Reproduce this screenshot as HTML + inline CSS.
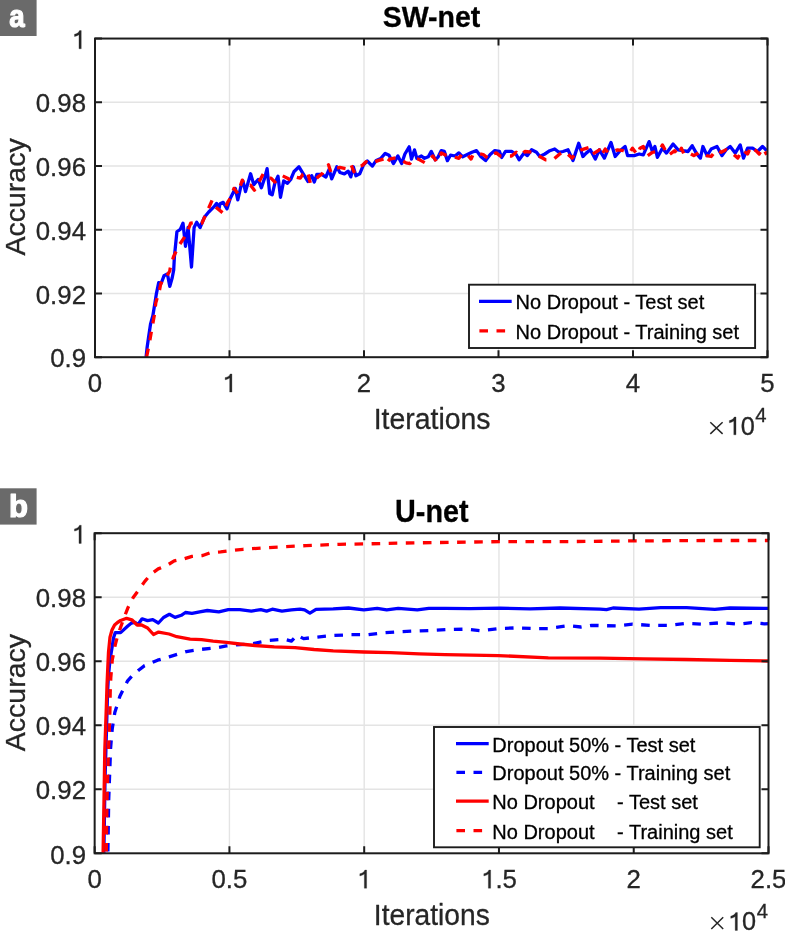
<!DOCTYPE html>
<html><head><meta charset="utf-8"><style>
html,body{margin:0;padding:0;background:#fff;}
svg{display:block;}
text{font-family:"Liberation Sans",sans-serif;}
</style></head><body>
<svg width="785" height="931" viewBox="0 0 785 931">
<rect width="785" height="931" fill="#fff"/>
<defs><clipPath id="clipA"><rect x="95" y="38.55" width="672.5" height="318.65"/></clipPath><clipPath id="clipB"><rect x="94.66" y="533.2" width="673.84" height="320.1"/></clipPath></defs>
<path d="M229.50 38.55V357.2M364.00 38.55V357.2M498.50 38.55V357.2M633.00 38.55V357.2M95.0 293.47H767.5M95.0 229.74H767.5M95.0 166.01H767.5M95.0 102.28H767.5" stroke="#e4e4e4" stroke-width="1.4" fill="none"/>
<g clip-path="url(#clipA)">
<path d="M146.1 357.0 L147.1 347.4 L148.5 337.7 L150.5 324.2 L152.9 315.5 L154.8 303.8 L156.3 294.2 L158.7 282.6 L161.1 283.5 L164.0 275.8 L167.4 273.9 L169.8 286.4 L172.2 277.7 L173.7 270.0 L174.4 256.7 L176.9 231.8 L180.4 229.2 L183.0 223.2 L185.5 246.4 L188.1 227.5 L191.5 267.0 L194.1 227.5 L196.7 222.3 L200.1 227.5 L204.4 217.2 L208.7 212.0 L213.9 206.9 L216.5 203.4 L219.0 208.6 L220.0 203.7 L223.2 202.4 L227.0 208.8 L230.2 198.6 L233.4 192.2 L235.3 188.4 L237.8 199.9 L241.0 185.9 L242.9 180.8 L245.5 191.6 L250.6 173.8 L253.8 184.6 L258.2 179.5 L261.4 187.8 L264.6 178.2 L267.1 168.7 L269.7 193.5 L272.2 194.8 L274.8 183.3 L278.0 176.3 L280.5 197.3 L283.7 180.8 L287.5 183.3 L290.7 179.5 L293.9 171.8 L299.0 166.8 L302.8 173.1 L307.9 181.4 L311.7 175.7 L314.3 182.0 L316.8 174.4 L321.5 174.4 L325.9 177.0 L329.1 169.3 L331.7 178.9 L336.8 166.8 L339.9 172.5 L344.4 173.8 L348.2 171.2 L350.8 176.9 L353.3 166.8 L355.9 175.7 L359.7 173.8 L363.5 164.8 L367.3 161.0 L372.4 166.1 L376.2 160.4 L380.7 158.5 L385.2 153.4 L389.0 155.3 L393.4 163.6 L397.9 155.9 L401.7 163.6 L404.9 154.0 L409.2 146.8 L411.5 159.1 L414.5 149.9 L416.8 158.3 L421.4 156.0 L424.5 158.3 L428.3 156.8 L431.3 151.4 L435.2 159.8 L438.2 156.8 L441.3 150.6 L444.3 151.4 L447.4 160.6 L450.5 155.2 L455.0 156.0 L458.9 152.9 L462.7 156.8 L467.3 154.5 L471.9 152.2 L476.5 150.6 L481.0 156.8 L485.6 160.6 L490.2 154.5 L494.8 150.6 L499.4 151.4 L501.7 157.5 L505.5 151.4 L511.6 151.4 L516.2 154.5 L519.1 159.8 L524.1 153.1 L527.4 155.6 L531.6 149.8 L536.5 152.3 L539.8 156.5 L544.8 154.0 L549.8 150.7 L554.7 149.0 L558.9 152.3 L563.0 151.5 L568.0 149.8 L573.0 160.6 L578.7 143.2 L582.9 156.5 L586.2 153.1 L590.3 149.8 L595.3 159.0 L599.4 149.8 L604.4 158.1 L611.0 142.4 L615.2 156.5 L620.1 150.7 L625.1 146.5 L627.6 155.6 L634.2 155.6 L639.2 154.0 L643.3 154.8 L649.1 141.6 L652.4 151.5 L654.9 146.5 L657.4 157.3 L662.4 148.2 L666.5 153.1 L673.1 144.0 L678.1 149.8 L683.0 150.7 L688.0 151.5 L692.2 145.7 L696.3 153.1 L700.4 158.1 L702.9 146.5 L707.1 155.6 L711.2 149.0 L717.0 146.5 L722.0 155.6 L726.1 149.8 L730.2 146.5 L735.2 153.1 L740.2 144.9 L743.5 158.1 L747.6 148.2 L752.6 148.2 L757.5 151.5 L762.5 146.5 L766.7 150.7" stroke="#0000ff" stroke-width="3.3" fill="none" stroke-linejoin="round"/>
<path d="M146.6 357.0 L149.5 342.5 L151.0 333.8 L152.9 323.2 L154.3 315.5 L155.8 302.9 L157.7 296.1 L159.7 289.3 L160.6 284.5 L163.0 278.7 L166.9 275.8 L169.8 271.0 L170.1 268.7 L173.5 256.7 L179.5 244.7 L186.4 234.4 L190.7 223.2 L196.7 222.3 L201.9 223.2 L207.0 212.0 L212.2 200.0 L215.6 206.9 L223.2 213.2 L227.6 202.4 L230.8 197.3 L234.0 188.4 L237.8 193.5 L242.3 180.1 L244.8 185.9 L250.6 185.2 L254.4 190.3 L258.2 183.3 L263.3 173.8 L267.1 178.2 L271.0 178.2 L274.8 182.0 L282.4 175.7 L287.5 178.2 L291.3 180.8 L295.2 176.9 L300.3 178.2 L302.8 174.4 L307.3 171.2 L310.4 183.3 L314.3 180.8 L318.1 176.9 L322.1 173.8 L325.3 168.7 L328.5 164.8 L331.0 172.5 L334.2 168.7 L339.9 167.4 L346.3 168.7 L350.8 164.2 L354.0 171.8 L355.2 167.4 L362.2 165.5 L366.1 161.7 L369.2 163.6 L375.0 161.7 L378.8 160.4 L383.9 159.1 L386.4 163.6 L389.6 159.1 L396.6 157.8 L401.7 160.4 L406.1 162.9 L409.9 163.6 L413.8 158.3 L418.3 159.1 L425.2 162.9 L429.1 159.8 L432.9 156.0 L436.7 162.1 L441.3 152.9 L445.9 155.2 L453.5 156.8 L458.9 158.3 L462.7 152.9 L467.3 154.5 L471.1 159.1 L473.4 153.7 L479.5 153.7 L483.3 154.5 L487.9 158.3 L491.7 154.5 L496.3 152.9 L500.2 156.0 L505.5 156.0 L511.6 156.0 L516.2 152.2 L520.0 155.6 L524.9 151.5 L533.2 152.3 L539.8 156.5 L545.6 159.8 L553.1 159.8 L559.7 154.0 L564.7 151.5 L572.1 158.1 L577.1 151.5 L581.2 149.8 L589.5 147.4 L592.8 154.0 L599.4 149.8 L601.1 155.6 L605.2 149.0 L608.5 153.1 L617.6 149.8 L623.4 150.7 L629.2 153.1 L632.5 148.2 L637.5 154.8 L640.0 148.2 L643.3 146.5 L646.6 156.5 L652.4 152.3 L659.0 151.5 L662.4 144.9 L668.1 155.6 L674.8 150.7 L678.1 155.6 L681.4 148.2 L683.9 154.0 L688.0 152.3 L693.8 155.6 L699.6 152.3 L706.2 155.6 L711.2 156.5 L716.2 149.8 L721.1 152.3 L726.1 149.8 L731.1 152.3 L737.7 158.1 L742.6 149.8 L747.6 154.0 L750.9 146.5 L755.9 150.7 L759.2 154.0 L763.3 148.2 L766.7 154.8" stroke="#ff0000" stroke-width="3.3" fill="none" stroke-linejoin="round" stroke-dasharray="8.6 8.5"/>
</g>
<rect x="95.0" y="38.55" width="672.50" height="318.65" fill="none" stroke="#1c1c1c" stroke-width="2.0"/>
<path d="M95.00 357.2V350.20M95.00 38.55V45.55M229.50 357.2V350.20M229.50 38.55V45.55M364.00 357.2V350.20M364.00 38.55V45.55M498.50 357.2V350.20M498.50 38.55V45.55M633.00 357.2V350.20M633.00 38.55V45.55M767.50 357.2V350.20M767.50 38.55V45.55M95.0 357.20H102.00M767.5 357.20H760.50M95.0 293.47H102.00M767.5 293.47H760.50M95.0 229.74H102.00M767.5 229.74H760.50M95.0 166.01H102.00M767.5 166.01H760.50M95.0 102.28H102.00M767.5 102.28H760.50M95.0 38.55H102.00M767.5 38.55H760.50" stroke="#1c1c1c" stroke-width="2.0" fill="none"/>
<path d="M710.3 422.2L722.6 433.9M722.6 422.2L710.3 433.9" stroke="#262626" stroke-width="1.5"/>
<rect x="0" y="-0.3" width="36.6" height="36.3" fill="#6a6a6a"/>
<rect x="469.0" y="284.7" width="286.1" height="63.3" fill="#fff" stroke="#1c1c1c" stroke-width="1.9"/>
<path d="M479.0 301.3 L511.7 301.3" stroke="#0000ff" stroke-width="3.3" fill="none" stroke-linejoin="round"/>
<path d="M479.4 330.9 L506.0 330.9" stroke="#ff0000" stroke-width="3.3" fill="none" stroke-linejoin="round" stroke-dasharray="8.6 8.5"/>
<path d="M229.43 533.2V853.3M364.20 533.2V853.3M498.96 533.2V853.3M633.73 533.2V853.3M94.66 789.28H768.5M94.66 725.26H768.5M94.66 661.24H768.5M94.66 597.22H768.5" stroke="#e4e4e4" stroke-width="1.4" fill="none"/>
<g clip-path="url(#clipB)">
<path d="M103.8 858.0 L105.0 780.0 L106.5 730.0 L107.6 691.5 L108.5 675.0 L110.0 660.0 L112.3 646.1 L113.5 638.0 L115.3 632.6 L120.6 632.6 L127.8 626.0 L131.5 623.0 L135.0 622.4 L138.0 624.5 L142.1 618.8 L147.5 620.6 L152.8 619.7 L158.4 623.0 L163.5 617.5 L169.4 614.3 L175.0 617.4 L181.3 615.3 L185.4 612.5 L192.0 613.4 L199.7 611.8 L207.3 610.5 L218.8 611.8 L228.3 609.6 L239.8 609.6 L251.3 611.1 L260.8 609.6 L266.6 611.1 L272.3 609.2 L281.9 611.1 L291.4 609.9 L300.0 609.2 L304.6 609.9 L309.9 613.2 L316.0 609.3 L333.2 608.8 L348.5 608.0 L363.8 609.9 L377.2 608.4 L386.7 609.9 L398.2 608.4 L417.3 609.9 L428.8 608.4 L445.0 608.4 L470.0 608.6 L500.0 608.2 L530.0 608.8 L560.0 608.0 L600.0 609.1 L606.5 609.7 L613.0 608.0 L639.0 609.1 L660.6 607.6 L686.6 607.6 L714.8 609.3 L729.9 608.0 L770.0 608.4" stroke="#0000ff" stroke-width="3.3" fill="none" stroke-linejoin="round"/>
<path d="M107.8 858.0 L108.7 800.0 L110.6 748.0 L112.2 729.0 L114.8 712.6 L119.9 696.2 L127.4 681.2 L132.5 675.5 L138.6 670.2 L144.6 665.6 L152.0 662.6 L157.6 660.2 L169.1 656.9 L186.3 651.6 L201.6 649.3 L216.9 647.8 L226.4 645.9 L234.1 645.1 L253.2 643.6 L268.5 640.5 L283.8 639.2 L291.4 641.1 L297.0 635.2 L303.6 638.6 L314.1 637.4 L333.2 635.5 L350.4 634.7 L367.6 634.7 L382.9 632.8 L399.1 631.7 L417.3 630.9 L432.6 630.4 L446.5 629.6 L466.0 629.2 L481.1 630.7 L498.5 628.6 L515.8 627.9 L535.3 628.6 L550.4 628.6 L554.8 627.5 L567.8 625.7 L580.8 627.0 L591.6 625.3 L604.6 625.7 L617.3 626.0 L632.5 624.2 L649.8 625.3 L669.3 625.3 L686.6 623.2 L703.9 624.2 L721.3 622.7 L738.6 624.2 L751.6 622.7 L764.6 623.8 L770.0 623.5" stroke="#0000ff" stroke-width="3.3" fill="none" stroke-linejoin="round" stroke-dasharray="8.6 8.5" stroke-dashoffset="10.66"/>
<path d="M103.0 858.0 L104.0 800.0 L104.8 750.0 L105.5 730.3 L106.3 707.7 L107.0 685.2 L107.8 667.1 L108.5 652.1 L110.0 637.1 L112.0 630.0 L114.6 625.0 L117.5 622.5 L120.6 620.5 L126.6 618.3 L131.8 619.8 L137.1 625.0 L141.6 625.0 L147.6 628.0 L153.5 634.5 L158.6 632.1 L169.1 634.0 L176.8 636.7 L190.1 639.2 L201.6 639.7 L213.1 641.1 L226.4 642.4 L239.8 644.0 L255.1 645.5 L274.2 646.8 L295.0 647.6 L314.1 649.5 L333.2 650.8 L363.8 652.0 L390.5 652.7 L419.2 653.9 L445.0 654.6 L498.5 655.6 L548.3 657.8 L600.0 658.2 L643.3 658.9 L686.6 659.5 L729.9 660.4 L770.0 661.0" stroke="#ff0000" stroke-width="3.3" fill="none" stroke-linejoin="round"/>
<path d="M106.2 858.0 L107.0 800.0 L108.5 750.0 L109.3 730.3 L110.0 707.7 L110.2 692.7 L110.8 677.7 L112.3 659.6 L115.3 644.6 L117.3 637.0 L119.8 629.5 L124.3 617.0 L127.8 608.1 L133.2 597.4 L138.5 590.3 L144.8 581.4 L151.0 574.2 L158.2 568.9 L167.1 565.3 L174.2 560.9 L183.1 559.1 L192.0 556.4 L202.7 555.5 L209.9 552.8 L220.6 551.9 L234.8 550.2 L242.9 549.3 L273.1 547.3 L306.2 545.6 L339.4 544.3 L364.2 543.9 L405.6 543.0 L455.3 542.3 L500.0 541.6 L565.0 541.6 L635.1 540.9 L705.2 540.5 L770.0 540.5" stroke="#ff0000" stroke-width="3.3" fill="none" stroke-linejoin="round" stroke-dasharray="8.6 8.5" stroke-dashoffset="10.67"/>
</g>
<rect x="94.66" y="533.2" width="673.84" height="320.10" fill="none" stroke="#1c1c1c" stroke-width="2.0"/>
<path d="M94.66 853.3V846.30M94.66 533.2V540.20M229.43 853.3V846.30M229.43 533.2V540.20M364.20 853.3V846.30M364.20 533.2V540.20M498.96 853.3V846.30M498.96 533.2V540.20M633.73 853.3V846.30M633.73 533.2V540.20M768.50 853.3V846.30M768.50 533.2V540.20M94.66 853.30H101.66M768.5 853.30H761.50M94.66 789.28H101.66M768.5 789.28H761.50M94.66 725.26H101.66M768.5 725.26H761.50M94.66 661.24H101.66M768.5 661.24H761.50M94.66 597.22H101.66M768.5 597.22H761.50M94.66 533.20H101.66M768.5 533.20H761.50" stroke="#1c1c1c" stroke-width="2.0" fill="none"/>
<path d="M711.3 917.3L723.2 929M723.2 917.3L711.3 929" stroke="#262626" stroke-width="1.5"/>
<rect x="0" y="488.3" width="36.6" height="36.3" fill="#6a6a6a"/>
<rect x="434.0" y="727.0" width="325.7" height="120.3" fill="#fff" stroke="#1c1c1c" stroke-width="1.9"/>
<path d="M456.0 743.6 L488.7 743.6" stroke="#0000ff" stroke-width="3.3" fill="none" stroke-linejoin="round"/>
<path d="M456.4 772.4 L483.0 772.4" stroke="#0000ff" stroke-width="3.3" fill="none" stroke-linejoin="round" stroke-dasharray="8.6 8.5"/>
<path d="M456.0 801.2 L488.7 801.2" stroke="#ff0000" stroke-width="3.3" fill="none" stroke-linejoin="round"/>
<path d="M456.4 830.6 L483.0 830.6" stroke="#ff0000" stroke-width="3.3" fill="none" stroke-linejoin="round" stroke-dasharray="8.6 8.5"/>
<defs><filter id="gs" x="0" y="0" width="785" height="931" filterUnits="userSpaceOnUse"><feColorMatrix type="saturate" values="0"/></filter></defs>
<g filter="url(#gs)">
<text x="50.13" y="367.40" font-size="25.8" text-anchor="start" font-weight="normal" fill="#262626" stroke="#262626" stroke-width="0.3" >0.9</text>
<text x="35.78" y="303.67" font-size="25.8" text-anchor="start" font-weight="normal" fill="#262626" stroke="#262626" stroke-width="0.3" >0.92</text>
<text x="35.78" y="239.94" font-size="25.8" text-anchor="start" font-weight="normal" fill="#262626" stroke="#262626" stroke-width="0.3" >0.94</text>
<text x="35.78" y="176.21" font-size="25.8" text-anchor="start" font-weight="normal" fill="#262626" stroke="#262626" stroke-width="0.3" >0.96</text>
<text x="35.78" y="112.48" font-size="25.8" text-anchor="start" font-weight="normal" fill="#262626" stroke="#262626" stroke-width="0.3" >0.98</text>
<path d="M372 0L372 703L305 703C272 622 205 582 109 562L109 476C182 488 245 512 284 546L284 0Z" fill="#262626" stroke="#262626" stroke-width="11.6" transform="translate(71.65 48.75) scale(0.02580 -0.02580)"/>
<text x="87.83" y="392.10" font-size="25.8" text-anchor="start" font-weight="normal" fill="#262626" stroke="#262626" stroke-width="0.3" >0</text>
<path d="M372 0L372 703L305 703C272 622 205 582 109 562L109 476C182 488 245 512 284 546L284 0Z" fill="#262626" stroke="#262626" stroke-width="11.6" transform="translate(222.33 392.10) scale(0.02580 -0.02580)"/>
<text x="356.83" y="392.10" font-size="25.8" text-anchor="start" font-weight="normal" fill="#262626" stroke="#262626" stroke-width="0.3" >2</text>
<text x="491.33" y="392.10" font-size="25.8" text-anchor="start" font-weight="normal" fill="#262626" stroke="#262626" stroke-width="0.3" >3</text>
<text x="625.83" y="392.10" font-size="25.8" text-anchor="start" font-weight="normal" fill="#262626" stroke="#262626" stroke-width="0.3" >4</text>
<text x="760.33" y="392.10" font-size="25.8" text-anchor="start" font-weight="normal" fill="#262626" stroke="#262626" stroke-width="0.3" >5</text>
<text x="373.64" y="429.10" font-size="30.07" font-weight="normal" fill="#262626" stroke="#262626" stroke-width="0.3" stroke-linejoin="round" textLength="116.91" lengthAdjust="spacingAndGlyphs">Iterations</text>
<text x="0" y="0" font-size="28.5" text-anchor="middle" fill="#262626" stroke="#262626" stroke-width="0.3" transform="translate(25.4 196.9) rotate(-90)">Accuracy</text>
<text x="382.64" y="26.51" font-size="29.15" font-weight="bold" fill="#000" stroke="#000" stroke-width="0.3" stroke-linejoin="round" textLength="97.65" lengthAdjust="spacingAndGlyphs">SW-net</text>
<path d="M372 0L372 703L305 703C272 622 205 582 109 562L109 476C182 488 245 512 284 546L284 0Z" fill="#262626" stroke="#262626" stroke-width="11.9" transform="translate(726.60 434.80) scale(0.02530 -0.02530)"/>
<text x="740.67" y="434.80" font-size="25.3" text-anchor="start" font-weight="normal" fill="#262626" stroke="#262626" stroke-width="0.3" >0</text>
<text x="755.20" y="421.90" font-size="20.3" text-anchor="start" font-weight="normal" fill="#262626" stroke="#262626" stroke-width="0.3" >4</text>
<text x="9.27" y="26.99" font-size="30.55" font-weight="bold" fill="#fff" stroke="#fff" stroke-width="1.2" stroke-linejoin="round" textLength="15.39" lengthAdjust="spacingAndGlyphs">a</text>
<text x="515.60" y="309.30" font-size="20" text-anchor="start" font-weight="normal" fill="#000" stroke="#000" stroke-width="0.3" >No Dropout - Test set</text>
<text x="515.60" y="338.90" font-size="20" text-anchor="start" font-weight="normal" fill="#000" stroke="#000" stroke-width="0.3" >No Dropout - Training set</text>
<text x="50.13" y="863.50" font-size="25.8" text-anchor="start" font-weight="normal" fill="#262626" stroke="#262626" stroke-width="0.3" >0.9</text>
<text x="35.78" y="799.48" font-size="25.8" text-anchor="start" font-weight="normal" fill="#262626" stroke="#262626" stroke-width="0.3" >0.92</text>
<text x="35.78" y="735.46" font-size="25.8" text-anchor="start" font-weight="normal" fill="#262626" stroke="#262626" stroke-width="0.3" >0.94</text>
<text x="35.78" y="671.44" font-size="25.8" text-anchor="start" font-weight="normal" fill="#262626" stroke="#262626" stroke-width="0.3" >0.96</text>
<text x="35.78" y="607.42" font-size="25.8" text-anchor="start" font-weight="normal" fill="#262626" stroke="#262626" stroke-width="0.3" >0.98</text>
<path d="M372 0L372 703L305 703C272 622 205 582 109 562L109 476C182 488 245 512 284 546L284 0Z" fill="#262626" stroke="#262626" stroke-width="11.6" transform="translate(71.65 543.40) scale(0.02580 -0.02580)"/>
<text x="87.49" y="888.20" font-size="25.8" text-anchor="start" font-weight="normal" fill="#262626" stroke="#262626" stroke-width="0.3" >0</text>
<text x="211.49" y="888.20" font-size="25.8" text-anchor="start" font-weight="normal" fill="#262626" stroke="#262626" stroke-width="0.3" >0.5</text>
<path d="M372 0L372 703L305 703C272 622 205 582 109 562L109 476C182 488 245 512 284 546L284 0Z" fill="#262626" stroke="#262626" stroke-width="11.6" transform="translate(357.02 888.20) scale(0.02580 -0.02580)"/>
<path d="M372 0L372 703L305 703C272 622 205 582 109 562L109 476C182 488 245 512 284 546L284 0Z" fill="#262626" stroke="#262626" stroke-width="11.6" transform="translate(481.03 888.20) scale(0.02580 -0.02580)"/>
<text x="495.38" y="888.20" font-size="25.8" text-anchor="start" font-weight="normal" fill="#262626" stroke="#262626" stroke-width="0.3" >.5</text>
<text x="626.56" y="888.20" font-size="25.8" text-anchor="start" font-weight="normal" fill="#262626" stroke="#262626" stroke-width="0.3" >2</text>
<text x="750.57" y="888.20" font-size="25.8" text-anchor="start" font-weight="normal" fill="#262626" stroke="#262626" stroke-width="0.3" >2.5</text>
<text x="373.86" y="925.20" font-size="30.20" font-weight="normal" fill="#262626" stroke="#262626" stroke-width="0.3" stroke-linejoin="round" textLength="115.88" lengthAdjust="spacingAndGlyphs">Iterations</text>
<text x="0" y="0" font-size="28.5" text-anchor="middle" fill="#262626" stroke="#262626" stroke-width="0.3" transform="translate(25.4 692.6) rotate(-90)">Accuracy</text>
<text x="395.07" y="522.19" font-size="30.71" font-weight="bold" fill="#000" stroke="#000" stroke-width="0.3" stroke-linejoin="round" textLength="73.47" lengthAdjust="spacingAndGlyphs">U-net</text>
<path d="M372 0L372 703L305 703C272 622 205 582 109 562L109 476C182 488 245 512 284 546L284 0Z" fill="#262626" stroke="#262626" stroke-width="11.9" transform="translate(728.00 930.40) scale(0.02530 -0.02530)"/>
<text x="742.07" y="930.40" font-size="25.3" text-anchor="start" font-weight="normal" fill="#262626" stroke="#262626" stroke-width="0.3" >0</text>
<text x="756.70" y="917.50" font-size="20.3" text-anchor="start" font-weight="normal" fill="#262626" stroke="#262626" stroke-width="0.3" >4</text>
<text x="8.98" y="516.69" font-size="30.75" font-weight="bold" fill="#fff" stroke="#fff" stroke-width="1.2" stroke-linejoin="round" textLength="18.99" lengthAdjust="spacingAndGlyphs">b</text>
<text x="492.30" y="751.60" font-size="20" text-anchor="start" font-weight="normal" fill="#000" stroke="#000" stroke-width="0.3" >Dropout 50%</text>
<text x="614.60" y="751.60" font-size="20" text-anchor="start" font-weight="normal" fill="#000" stroke="#000" stroke-width="0.3" >- Test set</text>
<text x="492.30" y="780.40" font-size="20" text-anchor="start" font-weight="normal" fill="#000" stroke="#000" stroke-width="0.3" >Dropout 50%</text>
<text x="614.60" y="780.40" font-size="20" text-anchor="start" font-weight="normal" fill="#000" stroke="#000" stroke-width="0.3" >- Training set</text>
<text x="492.30" y="809.20" font-size="20" text-anchor="start" font-weight="normal" fill="#000" stroke="#000" stroke-width="0.3" >No Dropout</text>
<text x="617.10" y="809.20" font-size="20" text-anchor="start" font-weight="normal" fill="#000" stroke="#000" stroke-width="0.3" >- Test set</text>
<text x="492.30" y="838.60" font-size="20" text-anchor="start" font-weight="normal" fill="#000" stroke="#000" stroke-width="0.3" >No Dropout</text>
<text x="617.10" y="838.60" font-size="20" text-anchor="start" font-weight="normal" fill="#000" stroke="#000" stroke-width="0.3" >- Training set</text>
</g>
</svg>
</body></html>
